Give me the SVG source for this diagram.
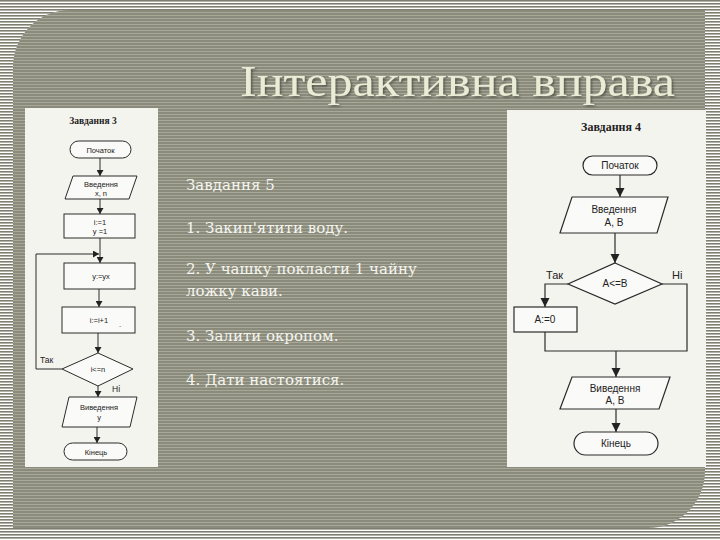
<svg xmlns="http://www.w3.org/2000/svg" width="720" height="540" viewBox="0 0 720 540">
<defs>
<pattern id="outer" width="8" height="3" patternUnits="userSpaceOnUse"><rect width="8" height="3" fill="#ffffff"/><rect width="8" height="1.6" fill="#7e7f70"/></pattern>
<pattern id="inner" width="8" height="3" patternUnits="userSpaceOnUse"><rect width="8" height="3" fill="#8a8b7b"/><rect width="8" height="1" fill="#a7a89a"/></pattern>
<filter id="shadow" x="-5%" y="-20%" width="110%" height="140%"><feDropShadow dx="1.5" dy="1.5" stdDeviation="1" flood-color="#3c3d33" flood-opacity="0.7"/></filter>
<marker id="ah" markerUnits="userSpaceOnUse" markerWidth="7" markerHeight="7" refX="6" refY="3.5" orient="auto"><path d="M0,0 L6,3.5 L0,7 Z" fill="#222"/></marker>
<marker id="ahb" markerUnits="userSpaceOnUse" markerWidth="10" markerHeight="10" refX="9" refY="4.5" orient="auto"><path d="M0,0 L9,4.5 L0,9 Z" fill="#222"/></marker>
<style>
.title{font-family:"Liberation Serif",serif;font-size:44px;fill:#e9edd5}
.body{font-family:"DejaVu Serif",serif;font-size:15px;fill:#f5f5ef}
.img{fill:#f4f4ef}
.sh{fill:#fafaf8;stroke:#2a2a2a;stroke-width:1}
.shb{fill:#fafaf8;stroke:#2a2a2a;stroke-width:1.2}
.cn{fill:none;stroke:#2a2a2a;stroke-width:1}
.cnb{fill:none;stroke:#2a2a2a;stroke-width:1.2}
.t3{font-family:"Liberation Sans",sans-serif;font-size:7.5px;fill:#222;text-anchor:middle}
.t4{font-family:"Liberation Sans",sans-serif;font-size:10px;fill:#222;text-anchor:middle}
.h3{font-family:"Liberation Serif",serif;font-weight:bold;font-size:9.5px;fill:#222;text-anchor:middle}
.h4{font-family:"Liberation Serif",serif;font-weight:bold;font-size:12px;fill:#222;text-anchor:middle}
.lb3{font-family:"Liberation Sans",sans-serif;font-size:8.5px;fill:#222}
.lb4{font-family:"Liberation Sans",sans-serif;font-size:11px;fill:#222}
</style>
</defs>
<rect width="720" height="540" fill="url(#outer)"/>
<path d="M70,10 H705 V471 A57,57 0 0 1 648,528 H13 V67 A57,57 0 0 1 70,10 Z" fill="url(#inner)"/>
<text class="title" x="240" y="96" textLength="435" lengthAdjust="spacingAndGlyphs" filter="url(#shadow)">Інтерактивна вправа</text>

<g id="task5">
<text class="body" x="186" y="190">Завдання 5</text>
<text class="body" x="186" y="233">1. Закип'ятити воду.</text>
<text class="body" x="186" y="274">2. У чашку покласти 1 чайну</text>
<text class="body" x="186" y="296">ложку кави.</text>
<text class="body" x="186" y="341">3. Залити окропом.</text>
<text class="body" x="186" y="385">4. Дати настоятися.</text>
</g>

<rect class="img" x="25" y="108" width="133" height="359"/>
<rect class="img" x="507" y="110" width="199" height="357"/>

<g id="left-chart">
<text class="h3" x="93" y="124">Завдання 3</text>
<g id="l-start"><rect class="sh" x="70" y="141" width="61" height="17" rx="8.5"/><text class="t3" x="100.5" y="152.5">Початок</text></g>
<g id="l-input"><polygon class="sh" points="73,176 137,176 129,199 65,199"/><text class="t3" x="101" y="187">Введення</text><text class="t3" x="101" y="196">x, n</text></g>
<g id="l-init"><rect class="sh" x="64" y="214" width="71" height="24"/><text class="t3" x="100" y="225">i:=1</text><text class="t3" x="100" y="234">y =1</text></g>
<g id="l-mul"><rect class="sh" x="64" y="263" width="71" height="26"/><text class="t3" x="101" y="279">y:=yx</text></g>
<g id="l-inc"><rect class="sh" x="62" y="307" width="73" height="26"/><text class="t3" x="99" y="323">i:=i+1</text><text class="t3" x="120" y="327">.</text></g>
<g id="l-cond"><polygon class="sh" points="98,353 133,369 98,386 62,369"/><text class="t3" x="98" y="372">i&lt;=n</text></g>
<g id="l-output"><polygon class="sh" points="69,397 137,397 130,427 62,427"/><text class="t3" x="99" y="410">Виведення</text><text class="t3" x="99" y="420">y</text></g>
<g id="l-end"><rect class="sh" x="64" y="443" width="63" height="17" rx="8.5"/><text class="t3" x="96" y="454.5">Кінець</text></g>
<text class="lb3" x="40" y="363">Так</text>
<text class="lb3" x="112" y="392">Ні</text>
</g>

<g id="right-chart">
<text class="h4" x="611" y="131">Завдання 4</text>
<g id="r-start"><rect class="shb" x="583" y="156" width="74" height="19" rx="9.5"/><text class="t4" x="620" y="169">Початок</text></g>
<g id="r-input"><polygon class="shb" points="572,197 668,197 657,233 560,233"/><text class="t4" x="614" y="213">Введення</text><text class="t4" x="614" y="226">A, B</text></g>
<g id="r-cond"><polygon class="shb" points="615,263 662,284 615,304 568,284"/><text class="t4" x="615" y="287">A&lt;=B</text></g>
<g id="r-assign"><rect class="shb" x="514" y="307" width="63" height="25"/><text class="t4" x="545" y="323">A:=0</text></g>
<g id="r-output"><polygon class="shb" points="572,377 670,377 659,409 560,409"/><text class="t4" x="615" y="392">Виведення</text><text class="t4" x="615" y="404">A, B</text></g>
<g id="r-end"><rect class="shb" x="574" y="432" width="84" height="23" rx="11.5"/><text class="t4" x="616" y="447">Кінець</text></g>
<text class="lb4" x="546" y="279">Так</text>
<text class="lb4" x="672" y="279">Ні</text>
</g>

<g id="connectors">
<line class="cn" x1="100" y1="158" x2="100" y2="176" marker-end="url(#ah)"/>
<line class="cn" x1="100" y1="199" x2="100" y2="214" marker-end="url(#ah)"/>
<line class="cn" x1="100" y1="238" x2="100" y2="263" marker-end="url(#ah)"/>
<path class="cn" d="M62,369 H36 V254 H99" marker-end="url(#ah)"/>
<line class="cn" x1="99" y1="289" x2="99" y2="307" marker-end="url(#ah)"/>
<line class="cn" x1="98" y1="333" x2="98" y2="353" marker-end="url(#ah)"/>
<line class="cn" x1="98" y1="386" x2="98" y2="397" marker-end="url(#ah)"/>
<line class="cn" x1="97" y1="427" x2="97" y2="443" marker-end="url(#ah)"/>

<line class="cnb" x1="620" y1="175" x2="620" y2="197" marker-end="url(#ahb)"/>
<line class="cnb" x1="615" y1="233" x2="615" y2="263" marker-end="url(#ahb)"/>
<path class="cnb" d="M568,284 H545 V307" marker-end="url(#ahb)"/>
<path class="cnb" d="M662,284 H687 V351 H545 V332"/>
<line class="cnb" x1="616" y1="351" x2="616" y2="377" marker-end="url(#ahb)"/>
<line class="cnb" x1="616" y1="409" x2="616" y2="432" marker-end="url(#ahb)"/>
</g>
</svg>
